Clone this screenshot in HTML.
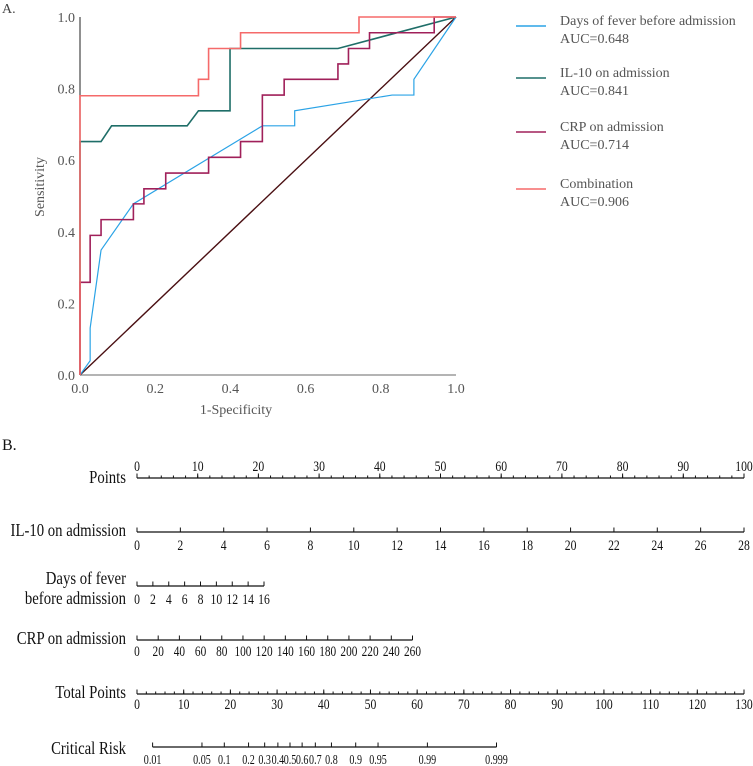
<!DOCTYPE html>
<html><head><meta charset="utf-8"><style>
body{margin:0;background:#fff;}
svg, svg text{font-family:"Liberation Serif","DejaVu Serif","Times New Roman",serif;}
svg{display:block;}
</style></head><body>
<svg width="753" height="766" viewBox="0 0 753 766" font-family="Liberation Serif, DejaVu Serif, serif">
<text x="2" y="13" font-size="14" fill="#444">A.</text>
<g id="roc"></g>
<g id="legend"></g>
<text x="2" y="450" font-size="16" fill="#111">B.</text>
<g id="nomo"></g>
</svg>
<script>
const NS='http://www.w3.org/2000/svg';
const yTicks=[0,0.2,0.4,0.6,0.8,1.0];
const xTicks=[0,0.2,0.4,0.6,0.8,1.0];
const seriesNames=['Days of fever before admission','IL-10 on admission','CRP on admission','Combination'];
const seriesAUC=['0.648','0.841','0.714','0.906'];
const seriesColors=['#2ba3e6','#1f6e68','#a0205a','#f56a6a'];
const daysFPR=[0,0.027,0.027,0.056,0.142,0.485,0.571,0.571,0.830,0.888,0.888,1];
const daysTPR=[0,0.04,0.131,0.349,0.478,0.696,0.696,0.738,0.782,0.782,0.826,1];
const il10FPR=[0,0,0.056,0.084,0.285,0.315,0.399,0.399,0.686,1];
const il10TPR=[0,0.652,0.652,0.696,0.696,0.738,0.738,0.912,0.912,1];
const crpFPR=[0,0,0.027,0.027,0.056,0.056,0.142,0.142,0.170,0.170,0.228,0.228,0.342,0.342,0.427,0.427,0.485,0.485,0.543,0.543,0.686,0.686,0.714,0.714,0.770,0.770,0.942,0.942,1];
const crpTPR=[0,0.259,0.259,0.39,0.39,0.434,0.434,0.478,0.478,0.52,0.52,0.564,0.564,0.608,0.608,0.652,0.652,0.782,0.782,0.826,0.826,0.869,0.869,0.912,0.912,0.956,0.956,1,1];
const combFPR=[0,0,0.315,0.315,0.342,0.342,0.427,0.427,0.742,0.742,1];
const combTPR=[0,0.78,0.78,0.826,0.826,0.912,0.912,0.956,0.956,1,1];

function el(tag,attrs,parent,text){const e=document.createElementNS(NS,tag);for(const k in attrs)e.setAttribute(k,attrs[k]);if(text!==undefined)e.textContent=text;parent.appendChild(e);return e;}
const X0=80,X1=456,Y0=375,Y1=17;
const sx=v=>X0+v*(X1-X0), sy=v=>Y0-v*(Y0-Y1);
const roc=document.getElementById('roc');
let a=el('line',{x1:X0,y1:Y0,x2:X0,y2:Y1,stroke:'#555','stroke-width':1.3},roc);


a=el('line',{x1:X0,y1:Y0,x2:X1,y2:Y0,stroke:'#888','stroke-width':1.3},roc);


yTicks.forEach(v=>{const t=el('text',{x:75,y:sy(v)+5,'font-size':14,fill:'#555','text-anchor':'end'},roc,v.toFixed(1));

});
xTicks.forEach(v=>{const t=el('text',{x:sx(v),y:393,'font-size':14,fill:'#555','text-anchor':'middle'},roc,v.toFixed(1));

});
a=el('text',{x:sx(0.5)-32,y:414,'font-size':14,fill:'#555','text-anchor':'middle'},roc,'1-Specificity');


a=el('text',{x:0,y:0,'font-size':14,fill:'#555','text-anchor':'middle',transform:'translate(44,187) rotate(-90)'},roc,'Sensitivity');


a=el('line',{x1:sx(0),y1:sy(0),x2:sx(1),y2:sy(1),stroke:'#4a0f12','stroke-width':1.4},roc);


const curves=[[daysFPR,daysTPR],[il10FPR,il10TPR],[crpFPR,crpTPR],[combFPR,combTPR]];
const curveNames=['days-fever-roc-line','il10-roc-line','crp-roc-line','combination-roc-line'];
curves.forEach((c,i)=>{const pts=c[0].map((f,j)=>sx(f)+','+sy(c[1][j])).join(' ');
const p=el('polyline',{points:pts,fill:'none',stroke:seriesColors[i],'stroke-width':i==0?1.2:1.6},roc);

});
const lg=document.getElementById('legend');
const legY=[26,78,132,189];
seriesNames.forEach((n,i)=>{
const g=el('g',{},lg);


el('line',{x1:516,x2:546,y1:legY[i],y2:legY[i],stroke:seriesColors[i],'stroke-width':1.5},g);
el('text',{x:560,y:legY[i]-1,'font-size':14,fill:'#555'},g,n);
el('text',{x:560,y:legY[i]+17,'font-size':14,fill:'#555'},g,'AUC='+seriesAUC[i]);});

const nm=document.getElementById('nomo');
const NX0=137,NX1=744;
const pointsTicks=[0,10,20,30,40,50,60,70,80,90,100];
const il10Ticks=[0,2,4,6,8,10,12,14,16,18,20,22,24,26,28];
const daysTicks=[0,2,4,6,8,10,12,14,16];
const crpTicks=[0,20,40,60,80,100,120,140,160,180,200,220,240,260];
const totalTicks=[0,10,20,30,40,50,60,70,80,90,100,110,120,130];
const riskTicks=[0.01,0.05,0.1,0.2,0.3,0.4,0.5,0.6,0.7,0.8,0.9,0.95,0.99,0.999];
const riskLabels=['0.01','0.05','0.1','0.2','0.3','0.4','0.5','0.6','0.7','0.8','0.9','0.95','0.99','0.999'];
function axis(name,label,labelYs,lineY,ticks,x0,x1,vmin,vmax,minorStep,fs,labY){
const g=el('g',{},nm);


label.forEach((l,i)=>el('text',{x:126,y:labelYs[i],'font-size':18,fill:'#111','text-anchor':'end',transform:`translate(126,0) scale(0.82,1) translate(-126,0)`},g,l));
const s=v=>x0+(v-vmin)/(vmax-vmin)*(x1-x0);
el('line',{x1:x0,x2:x1,y1:lineY,y2:lineY,stroke:'#111','stroke-width':1.3},g);
if(minorStep){for(let v=vmin;v<=vmax+1e-9;v+=minorStep)el('line',{x1:s(v),x2:s(v),y1:lineY,y2:lineY-2.5,stroke:'#111','stroke-width':1},g);}
ticks.forEach((v,i)=>{el('line',{x1:s(v),x2:s(v),y1:lineY,y2:lineY-4.5,stroke:'#111','stroke-width':1},g);
el('text',{x:s(v),y:labY,'font-size':fs,fill:'#111','text-anchor':'middle',transform:`translate(${s(v)},0) scale(0.78,1) translate(${-s(v)},0)`},g,String(v));});
return g;}
axis('points-axis',['Points'],[483],478,pointsTicks,NX0,NX1,0,100,2,15,471);
axis('il10-axis',['IL-10 on admission'],[536],532,il10Ticks,NX0,NX1,0,28,0,15,550);
axis('days-fever-axis',['Days of fever','before admission'],[584,604],586,daysTicks,137,264,0,16,0,15,604);
axis('crp-axis',['CRP on admission'],[644],640,crpTicks,137,412.5,0,260,0,14.5,656);
axis('total-points-axis',['Total Points'],[698],694,totalTicks,NX0,NX1,0,130,2,15,709);
const logit=p=>Math.log(p/(1-p));
const rg=el('g',{},nm);


el('text',{x:126,y:754,'font-size':18,fill:'#111','text-anchor':'end',transform:'translate(126,0) scale(0.82,1) translate(-126,0)'},rg,'Critical Risk');
const rx=p=>290+logit(p)*29.9;
el('line',{x1:rx(0.01),x2:rx(0.999),y1:747,y2:747,stroke:'#111','stroke-width':1.3},rg);
riskTicks.forEach((p,i)=>{el('line',{x1:rx(p),x2:rx(p),y1:747,y2:742.5,stroke:'#111','stroke-width':1},rg);
el('text',{x:rx(p),y:764,'font-size':14,fill:'#111','text-anchor':'middle',transform:`translate(${rx(p)},0) scale(0.72,1) translate(${-rx(p)},0)`},rg,riskLabels[i]);});
</script>
</body></html>
